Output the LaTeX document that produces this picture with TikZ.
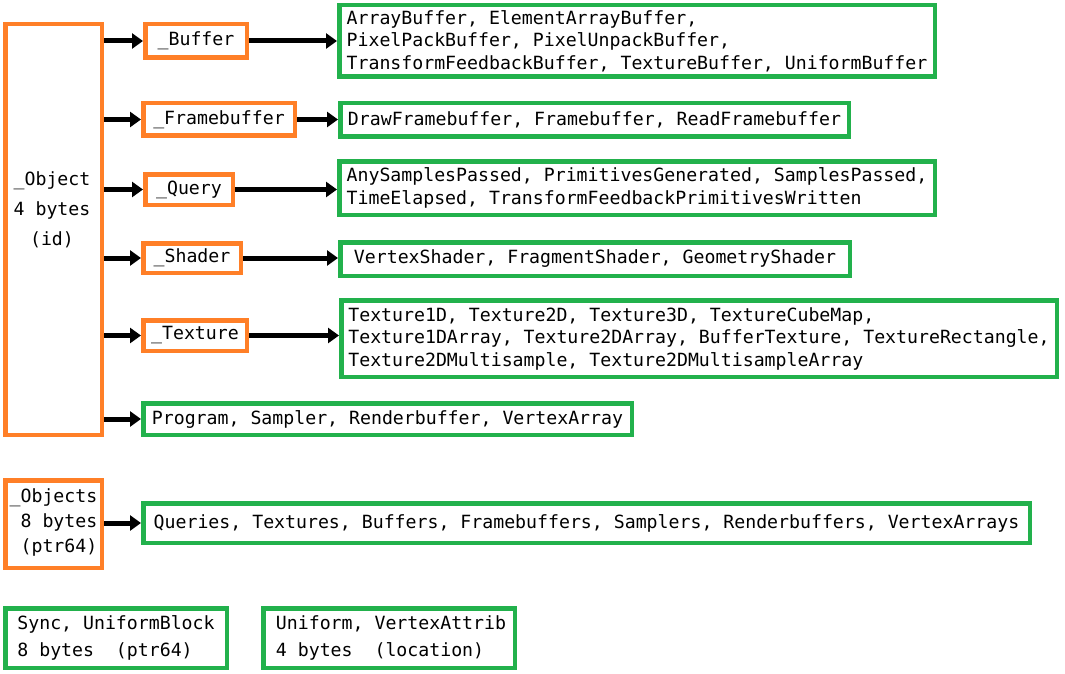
\documentclass[tikz,border=0pt]{standalone}
\usepackage{fontspec}
\setmonofont{DejaVu Sans Mono}
\usetikzlibrary{arrows.meta}
\definecolor{orng}{RGB}{255,127,39}
\definecolor{grn}{RGB}{34,177,76}
\begin{document}
\begin{tikzpicture}[x=1pt,y=-1pt,
  base/.style={draw, line width=4.5pt, inner sep=0pt, font=\ttfamily\fontsize{18.2}{22.5}\selectfont, align=left},
  obox/.style={base, draw=orng},
  gbox/.style={base, draw=grn},
  arr/.style={line width=5pt, -{Triangle[length=11pt,width=15pt]}}]
\useasboundingbox (0,0) rectangle (1065,674);
\newcommand{\bx}[6]{\node[#1, minimum width=#4-4.5pt, minimum height=#5-4.5pt] (#2) at #3 {#6};}
% _Object
\bx{obox}{obj}{(53.5,229.5)}{101pt}{415pt}{}
\node[font=\ttfamily\fontsize{18.2}{30}\selectfont, align=center] (objt) at (52,210) {\_Object\\4 bytes\\(id)};
% rows
\bx{obox}{buf}{(196,41)}{106pt}{38pt}{\_Buffer}
\bx{gbox}{bufL}{(637,41)}{600pt}{76pt}{ArrayBuffer, ElementArrayBuffer,\\PixelPackBuffer, PixelUnpackBuffer,\\TransformFeedbackBuffer, TextureBuffer, UniformBuffer}
\bx{obox}{fb}{(219,119.5)}{156pt}{37pt}{\_Framebuffer}
\bx{gbox}{fbL}{(594.5,120)}{513pt}{38pt}{DrawFramebuffer, Framebuffer, ReadFramebuffer}
\bx{obox}{qu}{(189,189.5)}{92pt}{35pt}{\_Query}
\bx{gbox}{quL}{(637,188)}{600pt}{58pt}{AnySamplesPassed, PrimitivesGenerated, SamplesPassed,\\TimeElapsed, TransformFeedbackPrimitivesWritten}
\bx{obox}{sh}{(192,258)}{102pt}{34pt}{\_Shader}
\bx{gbox}{shL}{(595,259)}{514pt}{38pt}{VertexShader, FragmentShader, GeometryShader}
\bx{obox}{tx}{(195,335.5)}{108pt}{35pt}{\_Texture}
\bx{gbox}{txL}{(699,338.5)}{720pt}{81pt}{Texture1D, Texture2D, Texture3D, TextureCubeMap,\\Texture1DArray, Texture2DArray, BufferTexture, TextureRectangle,\\Texture2DMultisample, Texture2DMultisampleArray}
\bx{gbox}{prog}{(387.5,419)}{493pt}{36pt}{Program, Sampler, Renderbuffer, VertexArray}
% _Objects
\bx{obox}{objs}{(53.5,524)}{101pt}{92pt}{}
\node[font=\ttfamily\fontsize{18.2}{25}\selectfont, align=left] (objst) at (53.5,522) {\_Objects\\\ 8 bytes\\\ (ptr64)};
\bx{gbox}{objsL}{(586.5,523)}{891pt}{44pt}{Queries, Textures, Buffers, Framebuffers, Samplers, Renderbuffers, VertexArrays}
% bottom
\bx{gbox}{sync}{(116,638)}{226pt}{64pt}{}
\node[font=\ttfamily\fontsize{18.2}{27}\selectfont, align=left] (synct) at (116,638) {Sync, UniformBlock\\8 bytes\ \ (ptr64)};
\bx{gbox}{unif}{(389,638)}{256pt}{64pt}{}
\node[font=\ttfamily\fontsize{18.2}{27}\selectfont, align=left] (uniftx) at (391,638) {Uniform, VertexAttrib\\4 bytes\ \ (location)};
% arrows
\foreach \n in {buf,fb,qu,sh,tx,prog}{\draw[arr] (obj.east |- \n.west) -- (\n.west);}
\foreach \a/\b in {buf/bufL,fb/fbL,qu/quL,sh/shL,tx/txL}{\draw[arr] (\a.east) -- (\a.east -| \b.west);}
\draw[arr] (objs.east |- objsL.west) -- (objsL.west);
\end{tikzpicture}
\end{document}
